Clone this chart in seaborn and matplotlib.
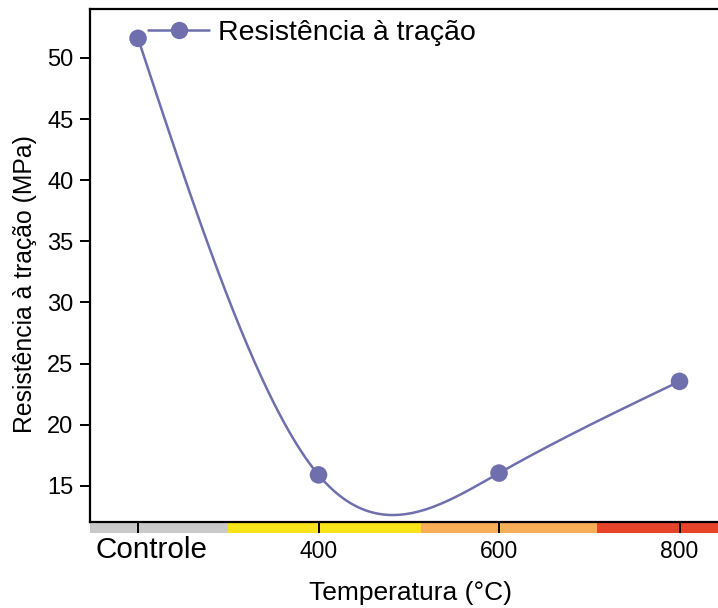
import numpy as np
import pandas as pd
import matplotlib
matplotlib.use("Agg")
import matplotlib.pyplot as plt
import matplotlib.transforms as mtransforms
from matplotlib.patches import Rectangle
from matplotlib.lines import Line2D
import seaborn as sns

# ---- data ----
categories = ["Controle", "400", "600", "800"]
resistencia = [51.6, 15.9, 16.05, 23.55]
band_edges = [-0.5, 0.5, 1.57, 2.54, 3.6]
band_colors = ["#C9C9C9", "#F9E41C", "#F7AE57", "#E8432B"]
y_ticks = [15, 20, 25, 30, 35, 40, 45, 50]
line_color = "#6F6FAE"

sns.set_theme(style="white")
plt.rcParams["font.family"] = ["Liberation Sans", "DejaVu Sans"]
plt.rcParams["text.color"] = "black"
plt.rcParams["axes.labelcolor"] = "black"
plt.rcParams["xtick.color"] = "black"
plt.rcParams["ytick.color"] = "black"

df = pd.DataFrame({"pos": np.arange(len(categories)), "val": resistencia,
                   "cat": categories})

# natural cubic spline through the points (smooth connecting line)
def natural_spline(x, y, n=400):
    x = np.asarray(x, float); y = np.asarray(y, float)
    m = len(x); h = np.diff(x)
    A = np.zeros((m, m)); b = np.zeros(m)
    A[0, 0] = A[-1, -1] = 1
    for i in range(1, m - 1):
        A[i, i - 1] = h[i - 1]; A[i, i] = 2 * (h[i - 1] + h[i]); A[i, i + 1] = h[i]
        b[i] = 6 * ((y[i + 1] - y[i]) / h[i] - (y[i] - y[i - 1]) / h[i - 1])
    M = np.linalg.solve(A, b)
    xs = np.linspace(x[0], x[-1], n); ys = np.empty_like(xs)
    for k, xv in enumerate(xs):
        i = min(np.searchsorted(x, xv, side="right") - 1, m - 2)
        t0 = x[i + 1] - xv; t1 = xv - x[i]
        ys[k] = (M[i] * t0**3 + M[i + 1] * t1**3) / (6 * h[i]) \
            + (y[i] / h[i] - M[i] * h[i] / 6) * t0 \
            + (y[i + 1] / h[i] - M[i + 1] * h[i] / 6) * t1
    return xs, ys

sx, sy = natural_spline(df["pos"], df["val"])
curve = pd.DataFrame({"x": sx, "y": sy})

fig = plt.figure(figsize=(7.18, 6.08), dpi=100)
ax = fig.add_axes([90 / 718, 1 - 522 / 608, 631.6 / 718, 513 / 608])

sns.lineplot(data=curve, x="x", y="y", ax=ax, color=line_color, lw=1.8,
             sort=False, zorder=3)
sns.scatterplot(data=df, x="pos", y="val", ax=ax, color=line_color, s=160,
                edgecolor="none", linewidth=0, zorder=4)

ax.set_xlim(-0.266, 3.233)
ax.set_ylim(12.05, 54.0)
ax.set_xticks(df["pos"])
ax.set_xticklabels(categories)
ax.set_yticks(y_ticks)
ax.set_xlabel("Temperatura (°C)", fontsize=19, color="black")
ax.set_ylabel("Resistência à tração (MPa)", fontsize=17.8, color="black")
ax.xaxis.set_label_coords(0.507, -0.115)
ax.yaxis.set_label_coords(-0.084, 0.464)

for s in ["left", "bottom", "top", "right"]:
    ax.spines[s].set_color("black")
    ax.spines[s].set_linewidth(1.6)

ax.tick_params(axis="y", direction="out", length=7, width=1.4, colors="black",
               labelcolor="black", labelsize=17, pad=5, left=True)
ax.tick_params(axis="x", direction="out", length=8, width=1.4, colors="black",
               labelcolor="black", labelsize=16.5, pad=18, bottom=True)
for t in ax.xaxis.get_major_ticks():
    t.label1.set_va("baseline")
ctrl = ax.xaxis.get_major_ticks()[0].label1
ctrl.set_fontsize(21.3)
ctrl.set_transform(ctrl.get_transform() +
                   mtransforms.ScaledTranslation(0.13, 0, fig.dpi_scale_trans))

# coloured temperature band under the axis
trans = mtransforms.blended_transform_factory(ax.transData, ax.transAxes)
for i, c in enumerate(band_colors):
    x0 = max(band_edges[i], -0.266)
    x1 = min(band_edges[i + 1], 3.233)
    ax.add_patch(Rectangle((x0, -0.0215), x1 - x0, 0.0195, transform=trans,
                           facecolor=c, edgecolor="none", clip_on=False,
                           zorder=0.5))

handle = Line2D([], [], color=line_color, lw=1.8, marker="o", markersize=12.5,
                markeredgewidth=0)
leg = ax.legend([handle], ["Resistência à tração"], loc="center left",
                bbox_to_anchor=(0.0918, 0.953), frameon=False, fontsize=20.5,
                borderpad=0, borderaxespad=0, handlelength=2.15,
                handletextpad=0.3, labelcolor="black")

fig.savefig("out.png", dpi=100)
